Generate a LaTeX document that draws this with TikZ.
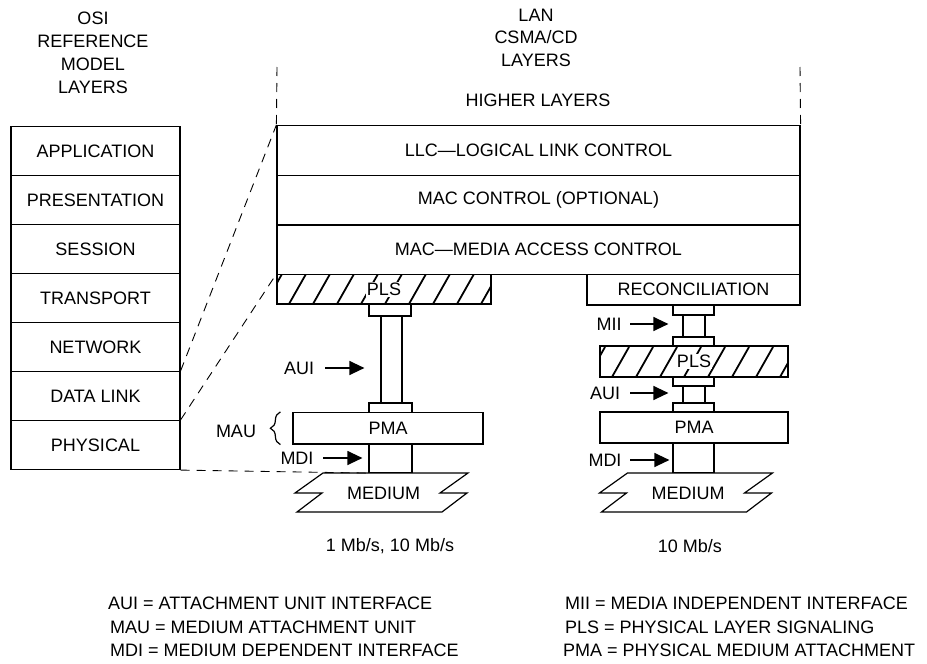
\documentclass[tikz,border=0pt]{standalone}
\usepackage{fontspec}
\setmainfont{Liberation Sans}
\usetikzlibrary{arrows.meta,decorations.pathreplacing}
\newcommand{\mybx}[6]{\node[box,minimum width={(#4-#2)*1pt},minimum height={(#5-#3)*1pt}] (#1) at ({(#2+#4)/2},{(#3+#5)/2}) {#6};}
\newcommand{\hbx}[5]{\node[box,minimum width={(#4-#2)*1pt},minimum height={(#5-#3)*1pt},
  path picture={\foreach \i in {0,...,12} \draw[hatch] ([xshift={\i*24-12}]path picture bounding box.south west) -- ++(17,-30);}] (#1) at ({(#2+#4)/2},{(#3+#5)/2}) {};
  \node[fill=white,inner sep=1.2pt] (#1t) at (#1) {PLS};}
\newcommand{\medshape}[2]{%
  \draw[line width=1.2pt,line join=miter] (#2-59.5,473) -- (#2+85.5,473) -- (#2+57.5,493) -- (#2+84.5,493) -- (#2+59.5,512) -- (#2-85.5,512) -- (#2-60.5,493) -- (#2-87.5,493) -- cycle;
  \node (#1) at (#2+1,493) {MEDIUM};}
\begin{document}
\begin{tikzpicture}[x=1pt,y=-1pt,
  every node/.style={font=\fontsize{18}{22}\selectfont, inner sep=0pt},
  box/.style={draw, line width=1.2pt},
  dsh/.style={line width=0.9pt, dash pattern=on 9pt off 7pt},
  hatch/.style={line width=1.8pt},
  arr/.style={line width=1.3pt, -{Triangle[length=15pt,width=14pt]}},
  brc/.style={line width=1.2pt, decorate, decoration={brace, amplitude=10pt}},
]
\useasboundingbox (0,0) rectangle (927,664);

% titles
\node[align=center,font=\fontsize{18}{23}\selectfont] (osititle) at (93,52.5) {OSI\\REFERENCE\\MODEL\\LAYERS};
\node[align=center,font=\fontsize{18}{22.5}\selectfont] (lantitle) at (536,37.5) {LAN\\CSMA/CD\\LAYERS};
\node (higher) at (538,100) {HIGHER LAYERS};

% OSI stack
\mybx{app}{11}{126.5}{180}{175.5}{APPLICATION}
\mybx{pres}{11}{175.5}{180}{224.5}{PRESENTATION}
\mybx{sess}{11}{224.5}{180}{273.5}{SESSION}
\mybx{trans}{11}{273.5}{180}{322.5}{TRANSPORT}
\mybx{net}{11}{322.5}{180}{371.5}{NETWORK}
\mybx{dl}{11}{371.5}{180}{420.5}{DATA LINK}
\mybx{phys}{11}{420.5}{180}{469.5}{PHYSICAL}

% LAN stack
\mybx{llc}{277}{125.5}{800}{175.5}{LLC—LOGICAL LINK CONTROL}
\mybx{macc}{277}{175.5}{800}{225}{MAC CONTROL (OPTIONAL)}
\mybx{mac}{277}{225}{800}{274.5}{MAC—MEDIA ACCESS CONTROL}
\coordinate (hlL) at (277,67);
\coordinate (hlR) at (800,67);
\draw[dsh] (hlL) -- (llc.north west);
\draw[dsh] (hlR) -- (llc.north east);

% left column (1 Mb/s, 10 Mb/s)
\hbx{plsL}{277}{274.5}{491}{304}
\mybx{capL1}{369}{304}{411}{316}{}
\mybx{colL}{381}{316}{402}{403}{}
\mybx{capL2}{369}{403}{412}{412.5}{}
\mybx{pmaL}{293}{412.5}{483}{444}{PMA}
\mybx{mdiL}{369}{444}{412}{472.5}{}
\medshape{medL}{382.5}

% right column (10 Mb/s)
\mybx{rec}{587}{274.5}{800}{305}{RECONCILIATION}
\mybx{capR1}{673}{305}{714}{315}{}
\mybx{colR1}{683}{315}{705}{337}{}
\mybx{capR2}{673}{337}{714}{346}{}
\hbx{plsR}{600}{346}{788}{377}
\mybx{capR3}{673}{377}{714}{386}{}
\mybx{colR2}{683}{386}{705}{403}{}
\mybx{capR4}{673}{403}{714}{412}{}
\mybx{pmaR}{600}{412}{788}{443}{PMA}
\mybx{mdiR}{673}{443}{714}{472.5}{}
\medshape{medR}{687}

% dashed correspondence lines
\draw[dsh] (dl.north east) -- (llc.north west);
\draw[dsh] (phys.north east) -- (plsL.north west);
\draw[dsh] (phys.south east) -- (mdiL.south west);

% interface labels and arrows
\node (auiLt) at (299,368) {AUI};
\draw[arr] ([xshift=11pt]auiLt.east) -- ([xshift=-16pt]auiLt.east -| colL.west);
\node (mdiLt) at (297,458) {MDI};
\draw[arr] ([xshift=9.5pt]mdiLt.east) -- ([xshift=-6pt]mdiLt.east -| mdiL.west);
\node (mauLt) at (236,431) {MAU};
\draw[brc] ([xshift=-12pt]pmaL.south west) -- ([xshift=-12pt]pmaL.north west);

\node (miiRt) at (609,324) {MII};
\draw[arr] ([xshift=8.5pt]miiRt.east) -- ([xshift=-14pt]miiRt.east -| colR1.west);
\node (auiRt) at (605,393) {AUI};
\draw[arr] ([xshift=10pt]auiRt.east) -- ([xshift=-14pt]auiRt.east -| colR2.west);
\node (mdiRt) at (605,460) {MDI};
\draw[arr] ([xshift=8.5pt]mdiRt.east) -- ([xshift=-3pt]mdiRt.east -| mdiR.west);

% speeds
\node (spL) at (390,546) {1 Mb/s, 10 Mb/s};
\node (spR) at (690,546) {10 Mb/s};

% legend
\node[anchor=west] (lg1) at (108,603) {AUI = ATTACHMENT UNIT INTERFACE};
\node[anchor=west] (lg2) at (110,627) {MAU = MEDIUM ATTACHMENT UNIT};
\node[anchor=west] (lg3) at (110,650) {MDI = MEDIUM DEPENDENT INTERFACE};
\node[anchor=west] (lg4) at (565,603) {MII = MEDIA INDEPENDENT INTERFACE};
\node[anchor=west] (lg5) at (565,627) {PLS = PHYSICAL LAYER SIGNALING};
\node[anchor=west] (lg6) at (563,650) {PMA = PHYSICAL MEDIUM ATTACHMENT};
\end{tikzpicture}
\end{document}
